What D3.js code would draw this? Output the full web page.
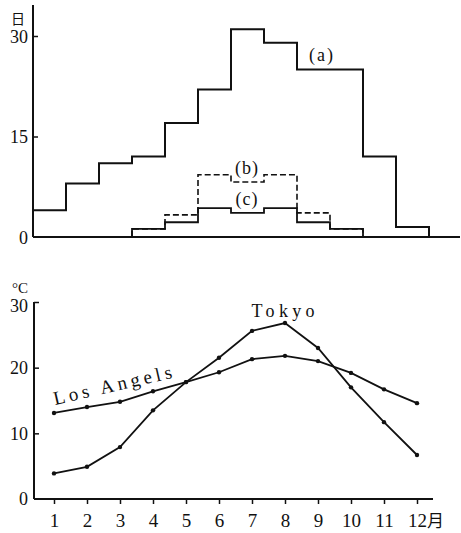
<!DOCTYPE html>
<html>
<head>
<meta charset="utf-8">
<script src="https://cdn.jsdelivr.net/npm/d3@7"></script>
<style>
  body { margin: 0; background: #fff; }
  svg text { font-family: "Liberation Serif", "DejaVu Serif", serif; fill: #111; }
  svg text.cjk, svg tspan.cjk { font-family: "Noto Sans CJK JP", sans-serif; }
</style>
</head>
<body>
<div id="chart"></div>
<script>
var WIDTH = 461
var HEIGHT = 533

// rainy days per month (top)
var months = [1, 2, 3, 4, 5, 6, 7, 8, 9, 10, 11, 12];
var daysA = [4, 8, 11, 12, 17, 22, 31, 29, 25, 25, 12, 1.5];
var daysB = [0, 0, 0, 1.2, 3.3, 9.3, 8.2, 9.3, 3.6, 1.2, 0, 0];
var daysC = [0, 0, 0, 1.2, 2.2, 4.3, 3.6, 4.3, 2.2, 1.2, 0, 0];
var dayTicks = [0, 15, 30];

// monthly mean temperature (bottom)
var tokyo = [3.9, 4.9, 7.9, 13.5, 17.8, 21.5, 25.6, 26.8, 23, 17, 11.7, 6.7];
var losAngeles = [13.1, 14, 14.8, 16.4, 17.8, 19.3, 21.3, 21.8, 21, 19.2, 16.7, 14.6];
var tempTicks = [0, 10, 20, 30];

var svg = d3.select('#chart').append('svg')
    .attr('width', WIDTH)
    .attr('height', HEIGHT);

//---------- top chart ----------
var xTop = d3.scaleLinear().domain([0, 12]).range([33, 429]);
var yTop = d3.scaleLinear().domain([0, 30]).range([237, 36]);

var gTop = svg.append('g');

// axes
gTop.append('line')
    .attr('x1', xTop(0)).attr('x2', 460)
    .attr('y1', yTop(0)).attr('y2', yTop(0))
    .attr('stroke', '#111').attr('stroke-width', 2);
gTop.append('line')
    .attr('x1', xTop(0)).attr('x2', xTop(0))
    .attr('y1', 5).attr('y2', yTop(0))
    .attr('stroke', '#111').attr('stroke-width', 2);

var yAxisTop = d3.axisLeft(yTop).tickValues(dayTicks).tickSizeInner(-5).tickSizeOuter(0).tickPadding(5);
var gyt = gTop.append('g').attr('transform', 'translate(' + xTop(0) + ',0)').call(yAxisTop);
gyt.select('.domain').remove();
gyt.selectAll('line').attr('stroke', '#111').attr('stroke-width', 1.5);
gyt.selectAll('line').filter(d => d === 0).remove();
gyt.selectAll('text')
    .style('font-family', '"Liberation Serif", serif')
    .style('font-size', '18px').attr('fill', '#111')
    .attr('dy', '0.36em');

gTop.append('text').attr('class', 'cjk')
    .attr('x', 18).attr('y', 24)
    .attr('text-anchor', 'middle')
    .style('font-size', '14px')
    .text('日');

// step lines, each month covers [i-1, i]
function stepPoints(values) {
    var first = values.findIndex(v => v > 0);
    var last = values.length - 1 - values.slice().reverse().findIndex(v => v > 0);
    var pts = [];
    if (first > 0) pts.push([first, 0]);
    for (var i = first; i <= last; i++) {
        pts.push([i, values[i]]);
        pts.push([i + 1, values[i]]);
    }
    pts.push([last + 1, 0]);
    return pts;
}

var stepLine = d3.line()
    .x(d => xTop(d[0]))
    .y(d => yTop(d[1]));

gTop.append('path')
    .attr('d', stepLine(stepPoints(daysA)))
    .attr('fill', 'none').attr('stroke', '#111').attr('stroke-width', 2);
gTop.append('path')
    .attr('d', stepLine(stepPoints(daysC)))
    .attr('fill', 'none').attr('stroke', '#111').attr('stroke-width', 1.8);
gTop.append('path')
    .attr('d', stepLine(stepPoints(daysB)))
    .attr('fill', 'none').attr('stroke', '#111').attr('stroke-width', 1.6)
    .attr('stroke-dasharray', '6,3');

gTop.append('text').attr('x', 322).attr('y', 61).attr('text-anchor', 'middle')
    .style('font-size', '18px').attr('letter-spacing', 2).text('(a)');
gTop.append('text').attr('x', 247).attr('y', 174).attr('text-anchor', 'middle')
    .style('font-size', '18px').attr('letter-spacing', 1).text('(b)');
gTop.append('text').attr('x', 247).attr('y', 205).attr('text-anchor', 'middle')
    .style('font-size', '18px').attr('letter-spacing', 1).text('(c)');

//---------- bottom chart ----------
var xBot = d3.scaleLinear().domain([1, 12]).range([54, 417]);
var yBot = d3.scaleLinear().domain([0, 30]).range([499, 302]);

var gBot = svg.append('g');

gBot.append('line')
    .attr('x1', 34).attr('x2', 433)
    .attr('y1', yBot(0)).attr('y2', yBot(0))
    .attr('stroke', '#111').attr('stroke-width', 2);
gBot.append('line')
    .attr('x1', 34).attr('x2', 34)
    .attr('y1', yBot(30)).attr('y2', yBot(0))
    .attr('stroke', '#111').attr('stroke-width', 2);

var xAxisBot = d3.axisBottom(xBot).tickValues(months).tickSizeInner(5).tickSizeOuter(0).tickPadding(10);
var gxb = gBot.append('g').attr('transform', 'translate(0,' + yBot(0) + ')').call(xAxisBot);
gxb.select('.domain').remove();
gxb.selectAll('line').attr('stroke', '#111').attr('stroke-width', 1.5);
gxb.selectAll('text')
    .style('font-family', '"Liberation Serif", serif')
    .style('font-size', '19px').attr('fill', '#111');
// "12月" keeps "12" centred on its tick
var lastText = gxb.selectAll('text').filter(d => d === 12);
var w12 = lastText.node().getComputedTextLength();
lastText.attr('text-anchor', 'start').attr('x', -w12 / 2);
lastText.append('tspan').attr('class', 'cjk').style('font-size', '17px').text('月');

var yAxisBot = d3.axisLeft(yBot).tickValues(tempTicks).tickSizeInner(-5).tickSizeOuter(0).tickPadding(6);
var gyb = gBot.append('g').attr('transform', 'translate(34,0)').call(yAxisBot);
gyb.select('.domain').remove();
gyb.selectAll('line').attr('stroke', '#111').attr('stroke-width', 1.5);
gyb.selectAll('line').filter(d => d === 0).remove();
gyb.selectAll('text')
    .style('font-family', '"Liberation Serif", serif')
    .style('font-size', '18px').attr('fill', '#111');
gyb.selectAll('text').filter(d => d === 30).attr('dy', '0.55em');

gBot.append('text').attr('x', 20).attr('y', 293).attr('text-anchor', 'middle')
    .style('font-size', '15px').text('°C');

var tempLine = d3.line()
    .x((d, i) => xBot(months[i]))
    .y(d => yBot(d));

[tokyo, losAngeles].forEach(series => {
    gBot.append('path')
        .attr('d', tempLine(series))
        .attr('fill', 'none').attr('stroke', '#111').attr('stroke-width', 1.8);
    gBot.selectAll(null)
        .data(series)
        .enter()
        .append('circle')
        .attr('cx', (d, i) => xBot(months[i]))
        .attr('cy', d => yBot(d))
        .attr('r', 2.2)
        .attr('fill', '#111');
});

gBot.append('text').attr('x', 283).attr('y', 317).attr('text-anchor', 'middle')
    .style('font-size', '18px')
    .attr('textLength', 63).attr('lengthAdjust', 'spacing')
    .text('Tokyo');

gBot.append('text')
    .attr('transform', 'translate(55,405) rotate(-13)')
    .style('font-size', '19px')
    .attr('textLength', 121).attr('lengthAdjust', 'spacing')
    .text('Los Angels');
</script>
</body>
</html>
